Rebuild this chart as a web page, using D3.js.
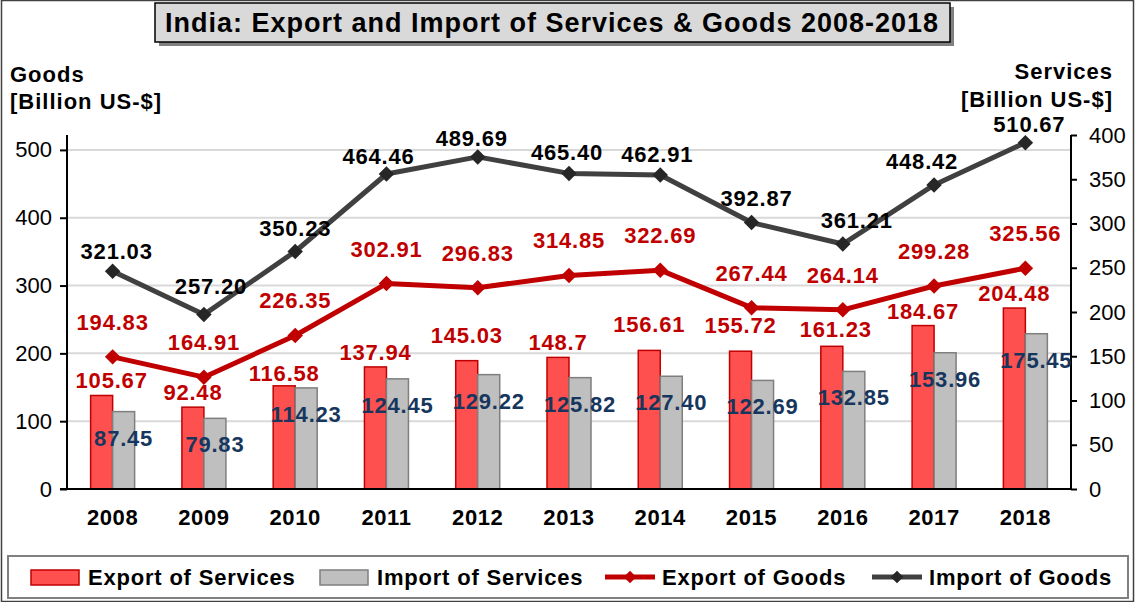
<!DOCTYPE html>
<html lang="en">
<head>
<meta charset="UTF-8">
<title>India: Export and Import of Services & Goods 2008-2018</title>
<script src="https://cdnjs.cloudflare.com/ajax/libs/d3/7.8.5/d3.min.js"></script>
<style>
body { margin: 0; background: #fff; }
svg { display: block; font-family: "Liberation Sans", Arial, sans-serif; }
.lbl { font-size: 22px; font-weight: bold; letter-spacing: 0.8px; text-anchor: middle; }
.tick-lbl { font-size: 22px; fill: #000; }
.year { font-size: 22px; font-weight: bold; letter-spacing: 0.6px; text-anchor: middle; }
.ax-title { font-size: 22px; font-weight: bold; letter-spacing: 1px; }
.leg { font-size: 22px; font-weight: bold; letter-spacing: 0.8px; }
</style>
</head>
<body>
<svg id="chart" width="1136" height="602"></svg>
<script>
var years = ['2008','2009','2010','2011','2012','2013','2014','2015','2016','2017','2018'];
var exportServices = [105.67, 92.48, 116.58, 137.94, 145.03, 148.7, 156.61, 155.72, 161.23, 184.67, 204.48];
var importServices = [87.45, 79.83, 114.23, 124.45, 129.22, 125.82, 127.40, 122.69, 132.85, 153.96, 175.45];
var exportGoods = [194.83, 164.91, 226.35, 302.91, 296.83, 314.85, 322.69, 267.44, 264.14, 299.28, 325.56];
var importGoods = [321.03, 257.20, 350.23, 464.46, 489.69, 465.40, 462.91, 392.87, 361.21, 448.42, 510.67];
var goodsTicks = [0, 100, 200, 300, 400, 500];
var servicesTicks = [0, 50, 100, 150, 200, 250, 300, 350, 400];

// hand nudges for the labels (as placed in the original)
var esLabelDy = [0, 0, 2, 0, -11, 0, -11, -11, -2, 0, 0];
var esLabelDx = [10, 0, 0, 0, 0, 0, 0, 0, 4, 0, 0];
var igLabelDy = [1, -8, -2, 3, 2, 0, 0, -4, -3, -3, 2];
var igLabelDx = [4, 7, 0, -8, -6, -2, -3, 5, 14, -12, 4];

var svg = d3.select('#chart');
var plotTop = 135, plotBottom = 489, plotLeft = 67, plotRight = 1071;

var x = d3.scaleBand().domain(years).range([plotLeft, plotRight]).paddingInner(0);
var bw = x.bandwidth();
var cx = function(d){ return x(d) + bw / 2; };
var yG = d3.scaleLinear().domain([0, 522]).range([plotBottom, plotTop]);
var yS = d3.scaleLinear().domain([0, 400]).range([plotBottom, plotTop]);
var barW = 22;

// outer border
svg.append('rect').attr('x', 1.5).attr('y', 0.5).attr('width', 1132).attr('height', 601)
  .attr('fill', 'none').attr('stroke', '#404040').attr('stroke-width', 1.5);

// gridlines
svg.append('g').selectAll('line').data(goodsTicks.slice(1)).enter().append('line')
  .attr('x1', plotLeft).attr('x2', plotRight)
  .attr('y1', function(d){ return yG(d); }).attr('y2', function(d){ return yG(d); })
  .attr('stroke', '#d9d9d9').attr('stroke-width', 2);

// bars
var bars = svg.append('g');
bars.selectAll('rect.es').data(years).enter().append('rect')
  .attr('x', function(d){ return cx(d) - barW; })
  .attr('y', function(d, i){ return yS(exportServices[i]); })
  .attr('width', barW)
  .attr('height', function(d, i){ return plotBottom - yS(exportServices[i]); })
  .attr('fill', '#ff5050').attr('stroke', '#c00000').attr('stroke-width', 1.5);
bars.selectAll('rect.is').data(years).enter().append('rect')
  .attr('x', function(d){ return cx(d); })
  .attr('y', function(d, i){ return yS(importServices[i]); })
  .attr('width', barW)
  .attr('height', function(d, i){ return plotBottom - yS(importServices[i]); })
  .attr('fill', '#bfbfbf').attr('stroke', '#7f7f7f').attr('stroke-width', 1.5);

// axes
var gl = svg.append('g').attr('transform', 'translate(' + plotLeft + ',0)')
  .call(d3.axisLeft(yG).tickValues(goodsTicks).tickSize(7).tickPadding(8));
var gr = svg.append('g').attr('transform', 'translate(' + plotRight + ',0)')
  .call(d3.axisRight(yS).tickValues(servicesTicks).tickSize(6).tickPadding(12));
[gl, gr].forEach(function(g){
  g.attr('font-family', null).attr('font-size', null);
  g.select('.domain').attr('stroke', '#000').attr('stroke-width', 2)
   .attr('d', 'M0,' + plotTop + 'V' + plotBottom);
  g.selectAll('.tick line').attr('stroke', '#000').attr('stroke-width', 2);
  g.selectAll('.tick text').attr('class', 'tick-lbl');
});
svg.append('line').attr('x1', plotLeft - 7).attr('x2', plotRight)
  .attr('y1', plotBottom).attr('y2', plotBottom).attr('stroke', '#000').attr('stroke-width', 2);

// year labels
svg.append('g').selectAll('text').data(years).enter().append('text')
  .attr('class', 'year').attr('x', cx).attr('y', 525).text(function(d){ return d; });

// lines
function drawLine(vals, color, marker){
  var line = d3.line().x(function(d, i){ return cx(years[i]); }).y(function(d){ return yG(d); });
  svg.append('path').datum(vals).attr('d', line)
    .attr('fill', 'none').attr('stroke', color).attr('stroke-width', 5).attr('stroke-linejoin', 'round');
  svg.append('g').selectAll('path').data(vals).enter().append('path')
    .attr('d', d3.symbol().type(d3.symbolSquare).size(120))
    .attr('transform', function(d, i){ return 'translate(' + cx(years[i]) + ',' + yG(d) + ') rotate(45)'; })
    .attr('fill', marker);
}
drawLine(exportGoods, '#c00000', '#c00000');
drawLine(importGoods, '#404040', '#262626');

// data labels
var labels = svg.append('g');
labels.selectAll('text.es').data(exportServices).enter().append('text')
  .attr('class', 'lbl').attr('fill', '#c00000')
  .attr('x', function(d, i){ return cx(years[i]) - barW / 2 + esLabelDx[i]; })
  .attr('y', function(d, i){ return yS(d) - 7 + esLabelDy[i]; })
  .text(function(d){ return d; });
labels.selectAll('text.is').data(importServices).enter().append('text')
  .attr('class', 'lbl').attr('fill', '#17365d')
  .attr('x', function(d, i){ return cx(years[i]) + barW / 2; })
  .attr('y', function(d){ return yS(d) + 34; })
  .text(function(d){ return d.toFixed(2); });
labels.selectAll('text.eg').data(exportGoods).enter().append('text')
  .attr('class', 'lbl').attr('fill', '#c00000')
  .attr('x', function(d, i){ return cx(years[i]); })
  .attr('y', function(d){ return yG(d) - 27; })
  .text(function(d){ return d.toFixed(2); });
labels.selectAll('text.ig').data(importGoods).enter().append('text')
  .attr('class', 'lbl').attr('fill', '#000')
  .attr('x', function(d, i){ return cx(years[i]) + igLabelDx[i]; })
  .attr('y', function(d, i){ return yG(d) - 13 + igLabelDy[i]; })
  .text(function(d){ return d.toFixed(2); });

// axis titles
svg.append('text').attr('class', 'ax-title').attr('x', 10).attr('y', 82).text('Goods');
svg.append('text').attr('class', 'ax-title').attr('x', 10).attr('y', 109).text('[Billion US-$]');
svg.append('text').attr('class', 'ax-title').attr('x', 1113).attr('y', 79).attr('text-anchor', 'end').text('Services');
svg.append('text').attr('class', 'ax-title').attr('x', 1113).attr('y', 107).attr('text-anchor', 'end').text('[Billion US-$]');

// title
svg.append('rect').attr('x', 159).attr('y', 7).attr('width', 795).attr('height', 39).attr('fill', '#808080');
svg.append('rect').attr('x', 155).attr('y', 3).attr('width', 795).attr('height', 39)
  .attr('fill', '#d9d9d9').attr('stroke', '#000').attr('stroke-width', 1.5);
svg.append('text').attr('x', 552).attr('y', 32).attr('text-anchor', 'middle')
  .attr('font-size', 27).attr('font-weight', 'bold').attr('letter-spacing', 1)
  .text('India: Export and Import of Services & Goods 2008-2018');

// legend
svg.append('rect').attr('x', 8).attr('y', 556).attr('width', 1120).attr('height', 42)
  .attr('fill', '#fff').attr('stroke', '#808080').attr('stroke-width', 2);
var leg = [
  {name: 'Export of Services', type: 'bar', fill: '#ff5050', stroke: '#c00000', x: 31},
  {name: 'Import of Services', type: 'bar', fill: '#bfbfbf', stroke: '#7f7f7f', x: 320},
  {name: 'Export of Goods', type: 'line', fill: '#c00000', stroke: '#c00000', x: 605},
  {name: 'Import of Goods', type: 'line', fill: '#262626', stroke: '#404040', x: 872}
];
var lg = svg.append('g').selectAll('g').data(leg).enter().append('g')
  .attr('transform', function(d){ return 'translate(' + d.x + ',577)'; });
lg.filter(function(d){ return d.type === 'bar'; }).append('rect')
  .attr('x', 0).attr('y', -7).attr('width', 48).attr('height', 15)
  .attr('fill', function(d){ return d.fill; }).attr('stroke', function(d){ return d.stroke; }).attr('stroke-width', 1.5);
lg.filter(function(d){ return d.type === 'line'; }).append('line')
  .attr('x1', 0).attr('x2', 50).attr('y1', 0).attr('y2', 0)
  .attr('stroke', function(d){ return d.stroke; }).attr('stroke-width', 5);
lg.filter(function(d){ return d.type === 'line'; }).append('path')
  .attr('d', d3.symbol().type(d3.symbolSquare).size(80))
  .attr('transform', 'translate(25,0) rotate(45)')
  .attr('fill', function(d){ return d.fill; });
lg.append('text').attr('class', 'leg').attr('x', 57).attr('y', 8).text(function(d){ return d.name; });
</script>
</body>
</html>
